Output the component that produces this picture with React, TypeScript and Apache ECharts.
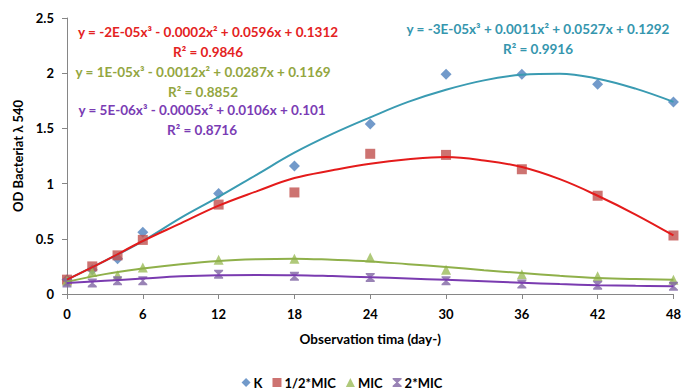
import React, { useEffect, useRef } from "react";
import * as echarts from "echarts";

const days = [0, 2, 4, 6, 12, 18, 24, 30, 36, 42, 48];
const kValues = [0.13, 0.22, 0.32, 0.56, 0.91, 1.16, 1.54, 1.99, 1.99, 1.9, 1.74];
const halfMicValues = [0.13, 0.25, 0.35, 0.49, 0.81, 0.92, 1.27, 1.26, 1.13, 0.89, 0.53];
const micValues = [0.12, 0.2, 0.17, 0.24, 0.31, 0.32, 0.33, 0.22, 0.18, 0.16, 0.13];
const twoMicValues = [0.1, 0.1, 0.12, 0.12, 0.18, 0.16, 0.15, 0.12, 0.09, 0.08, 0.07];

// Trendline curves
const trendDays = [0, 3, 6, 9, 12, 15, 18, 21, 24, 27, 30, 33, 36, 39, 42, 45, 48];
const kTrend = [0.13, 0.3, 0.48, 0.69, 0.88, 1.08, 1.28, 1.45, 1.6, 1.74, 1.85, 1.935, 1.985, 1.995, 1.95, 1.86, 1.74];
const halfMicTrend = [0.13, 0.3, 0.48, 0.64, 0.8, 0.93, 1.05, 1.12, 1.18, 1.22, 1.24, 1.21, 1.15, 1.04, 0.89, 0.72, 0.53];
const micTrend = [0.11, 0.18, 0.23, 0.27, 0.3, 0.315, 0.32, 0.31, 0.295, 0.27, 0.245, 0.215, 0.19, 0.165, 0.145, 0.135, 0.13];
const twoMicTrend = [0.1, 0.12, 0.14, 0.16, 0.17, 0.172, 0.17, 0.162, 0.152, 0.14, 0.128, 0.115, 0.102, 0.09, 0.08, 0.074, 0.07];

const seriesNames = ["K", "1/2*MIC", "MIC", "2*MIC"];
const equations = [
  "y = -3E-05x³ + 0.0011x² + 0.0527x + 0.1292",
  "y = -2E-05x³ - 0.0002x² + 0.0596x + 0.1312",
  "y = 1E-05x³ - 0.0012x² + 0.0287x + 0.1169",
  "y = 5E-06x³ - 0.0005x² + 0.0106x + 0.101",
];
const rSquared = ["R² = 0.9916", "R² = 0.9846", "R² = 0.8852", "R² = 0.8716"];

const hourglass = "path://M0,0 L10,0 L10,1.5 L6,5 L10,8.5 L10,10 L0,10 L0,8.5 L4,5 L0,1.5 Z";

const markerColors = ["#4F81BD", "#C0504D", "#9BBB59", "#8064A2"];
const trendColors = ["#3A9BB2", "#E41B1B", "#8FB04A", "#7A3BB0"];
const textColors = ["#3596AE", "#E42222", "#93A63F", "#7A3CB4"];
const symbols = ["diamond", "rect", "triangle", hourglass];
const symbolSizes = [11, 10, 10, 9];

const FONT = "Lato, 'Open Sans', sans-serif";

export default function App() {
  const ref = useRef<HTMLDivElement>(null);
  useEffect(() => {
    if (!ref.current) return;
    const chart = echarts.init(ref.current, undefined, { renderer: "svg" });
    const pointSets = [kValues, halfMicValues, micValues, twoMicValues];
    const trendSets = [kTrend, halfMicTrend, micTrend, twoMicTrend];

    const scatterSeries = pointSets.map((vals, i) => ({
      name: seriesNames[i],
      type: "scatter",
      data: days.map((d, j) => [d, vals[j]]),
      symbol: symbols[i],
      symbolSize: symbolSizes[i],
      itemStyle: { color: markerColors[i] },
      z: 2,
    }));
    const trendSeries = trendSets.map((vals, i) => ({
      name: seriesNames[i] + " trend",
      type: "line",
      data: trendDays.map((d, j) => [d, vals[j]]),
      smooth: 0.4,
      showSymbol: false,
      symbol: "none",
      lineStyle: { color: trendColors[i], width: 2 },
      z: 3,
      silent: true,
    }));

    const eqPos = [
      { x: 538, y: 29 },
      { x: 208, y: 32 },
      { x: 203, y: 72 },
      { x: 202, y: 110 },
    ];
    const graphics: any[] = [];
    eqPos.forEach((p, i) => {
      graphics.push({
        type: "text",
        x: p.x,
        y: p.y,
        style: {
          text: equations[i],
          fill: textColors[i],
          font: `bold 13.5px ${FONT}`,
          textAlign: "center",
          textVerticalAlign: "middle",
        },
      });
      graphics.push({
        type: "text",
        x: p.x,
        y: p.y + 19.5,
        style: {
          text: rSquared[i],
          fill: textColors[i],
          font: `bold 13.5px ${FONT}`,
          textAlign: "center",
          textVerticalAlign: "middle",
        },
      });
    });

    chart.setOption({
      animation: false,
      backgroundColor: "#ffffff",
      grid: { left: 67, right: 6, top: 18, bottom: 98, containLabel: false },
      xAxis: {
        type: "value",
        min: 0,
        max: 48,
        interval: 6,
        name: "Observation tima (day-)",
        nameLocation: "middle",
        nameGap: 38,
        nameTextStyle: { fontFamily: FONT, fontWeight: "bold", fontSize: 13.5, color: "#000" },
        axisLine: { show: true, onZero: false, lineStyle: { color: "#868686", width: 1 } },
        axisTick: { show: true, length: 5, lineStyle: { color: "#868686" } },
        axisLabel: { fontFamily: FONT, fontWeight: "bold", fontSize: 13, color: "#000", margin: 13 },
        splitLine: { show: false },
      },
      yAxis: {
        type: "value",
        min: 0,
        max: 2.5,
        interval: 0.5,
        name: "OD Bacteriat λ 540",
        nameLocation: "middle",
        nameGap: 40,
        nameRotate: 90,
        nameTextStyle: { fontFamily: FONT, fontWeight: "bold", fontSize: 13, color: "#000" },
        axisLine: { show: true, lineStyle: { color: "#868686", width: 1 } },
        axisTick: { show: true, length: 5, lineStyle: { color: "#868686" } },
        axisLabel: { fontFamily: FONT, fontWeight: "bold", fontSize: 13, color: "#000", margin: 13 },
        splitLine: { show: false },
      },
      legend: {
        data: seriesNames.map((n, i) => ({ name: n, icon: i === 3 ? hourglass : symbols[i] })),
        left: "center",
        top: 371,
        itemWidth: 9,
        itemHeight: 9,
        itemGap: 10,
        textStyle: { fontFamily: FONT, fontWeight: "bold", fontSize: 13, color: "#000", padding: [0, 0, 0, -2] },
      },
      series: [...scatterSeries, ...trendSeries],
      graphic: graphics,
    });
    return () => chart.dispose();
  }, []);
  return <div ref={ref} style={{ width: 684, height: 392, position: "absolute", left: 0, top: 0 }} />;
}
